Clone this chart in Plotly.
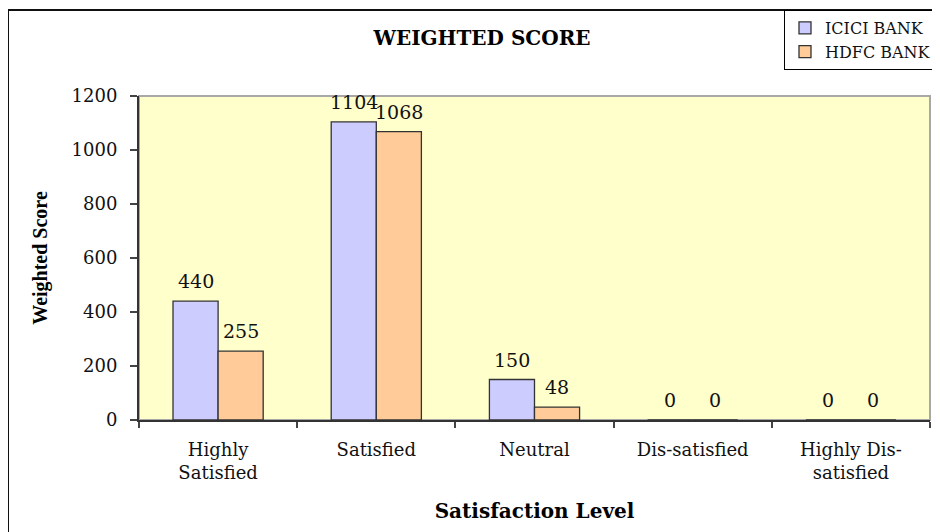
import plotly.graph_objects as go

categories = ["Highly<br>Satisfied", "Satisfied", "Neutral", "Dis-satisfied", "Highly Dis-<br>satisfied"]
icici = [440, 1104, 150, 0, 0]
hdfc = [255, 1068, 48, 0, 0]
series_names = ["ICICI BANK", "HDFC BANK"]
y_ticks = [0, 200, 400, 600, 800, 1000, 1200]

# page body has an 8px margin; figure sized to fit in 940x532 window
OFF = 8
W, H = 940 - OFF, 532 - OFF
L, R, T, B = 139 - OFF, 10, 96 - OFF, 112
BARGAP = 0.43
plot_w = W - L - R
plot_h = H - T - B
cat_w = plot_w / len(categories)
bar_off = cat_w * (1 - BARGAP) / 4

serif_wide = "DejaVu Serif"
serif = "Liberation Serif, Times New Roman, serif"

def px_to_paper_x(px):
    return (px - OFF - L) / plot_w

def px_to_paper_y(py):
    return (H - B - (py - OFF)) / plot_h

fig = go.Figure()
for name, vals, color in [(series_names[0], icici, "#CCCCFF"), (series_names[1], hdfc, "#FFCC99")]:
    fig.add_trace(go.Bar(
        x=categories, y=vals, name=name,
        marker=dict(color=color, line=dict(color="#333333", width=1.3)),
    ))

annotations = []
for vals, shift in [(icici, -bar_off), (hdfc, bar_off)]:
    for c, v in zip(categories, vals):
        annotations.append(dict(
            x=c, y=v, xref="x", yref="y", text=str(v), showarrow=False,
            xshift=shift, yanchor="bottom", yshift=7,
            font=dict(family=serif_wide, size=19, color="#111111"),
        ))

top_y = px_to_paper_y(10)
left_x = px_to_paper_x(8)

fig.update_layout(
    width=W, height=H,
    margin=dict(l=L, r=R, t=T, b=B, autoexpand=False),
    paper_bgcolor="white",
    plot_bgcolor="#FFFFCC",
    barmode="group",
    bargap=BARGAP,
    bargroupgap=0,
    title=dict(text="<b>WEIGHTED SCORE</b>", x=(482 - OFF) / W, xanchor="center", y=1 - (38 - OFF) / H,
               yanchor="middle", font=dict(family=serif_wide, size=20, color="#000000")),
    legend=dict(x=(784 - OFF) / W, xref="container", xanchor="left",
                y=1 - (10 - OFF) / H, yref="container", yanchor="top",
                bgcolor="white", bordercolor="#000000", borderwidth=1,
                font=dict(family=serif_wide, size=16, color="#111111"),
                tracegroupgap=0, itemwidth=30),
    annotations=annotations,
    shapes=[
        dict(type="rect", xref="paper", yref="paper", x0=0, x1=1, y0=0, y1=1,
             line=dict(color="#A8A8A8", width=2), layer="below"),
        dict(type="line", xref="paper", yref="paper",
             x0=left_x, x1=left_x, y0=top_y, y1=-1,
             line=dict(color="#111111", width=2)),
        dict(type="line", xref="paper", yref="paper",
             x0=left_x, x1=1.2, y0=top_y, y1=top_y,
             line=dict(color="#111111", width=2)),
    ],
)

fig.update_xaxes(
    type="category", tickson="boundaries", ticks="outside", ticklen=6, tickcolor="#444444", tickwidth=2,
    showline=True, linecolor="#333333", linewidth=2, showgrid=False, ticklabelstandoff=12,
    tickfont=dict(family=serif_wide, size=18, color="#111111"),
    title=dict(text="<b>Satisfaction Level</b>", font=dict(family=serif_wide, size=20, color="#000000"), standoff=22),
)
fig.update_yaxes(
    range=[0, 1200], tickvals=y_ticks, ticks="outside", ticklen=7, tickcolor="#444444", tickwidth=2,
    showline=True, linecolor="#333333", linewidth=2, showgrid=False, zeroline=False, ticklabelstandoff=9,
    tickfont=dict(family=serif_wide, size=18, color="#111111"),
    title=dict(text="<b>Weighted Score</b>", font=dict(family=serif, size=20, color="#000000"), standoff=19),
)

fig.write_html("out.html")
